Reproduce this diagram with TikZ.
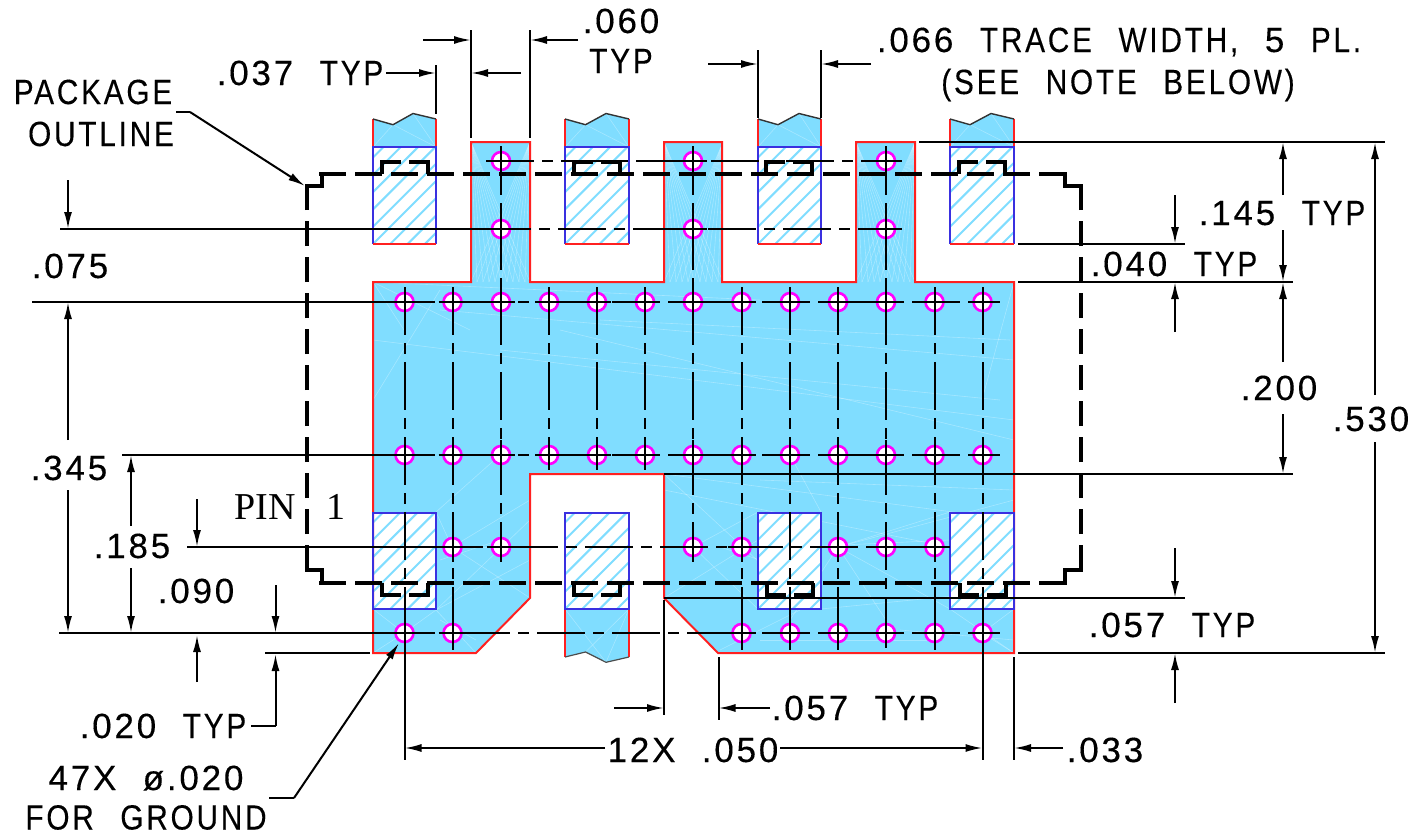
\documentclass[tikz,border=0pt]{standalone}
\usepackage{fontspec}
\usetikzlibrary{arrows.meta}
\newfontfamily\cadfont[FakeStretch=.85,LetterSpace=8,WordSpace=2.4,FakeBold=.25]{Liberation Sans}
\newfontfamily\numfont[FakeStretch=1,LetterSpace=8,WordSpace=2.1,FakeBold=.25]{Liberation Sans}
\newfontfamily\pinfont{Liberation Serif}
\newcommand{\nm}[1]{{\numfont #1}}
\definecolor{padcyan}{HTML}{80DDFF}
\definecolor{padred}{HTML}{FF2020}
\definecolor{leadblue}{HTML}{3A30E0}
\definecolor{viamag}{HTML}{FF00FF}
\tikzset{
  lbl/.style={font=\cadfont\fontsize{35}{35}\selectfont,inner sep=0pt,text=black,anchor=base},
  pinlbl/.style={font=\pinfont\fontsize{38}{38}\selectfont,inner sep=0pt,text=black,anchor=base},
  thin line/.style={draw=black,line width=2pt},
  dimarrow/.style={thin line,-{Latex[length=17pt,width=8pt]}},
  centerline/.style={thin line,dash pattern=on 48pt off 8pt on 11pt off 8pt},
  outline/.style={draw=black,line width=4.8pt,line join=miter},
  outdash/.style={outline,dash pattern=on 27pt off 9pt},
  outvdash/.style={outline,dash pattern=on 25pt off 11pt},
  padfill/.style={fill=padcyan,draw=none},
  padedge/.style={draw=padred,line width=2pt},
  leadedge/.style={draw=leadblue,line width=2pt},
  hatchline/.style={draw=padcyan,line width=2pt},
  meshline/.style={draw=white,line width=.6pt,opacity=.3},
  viacircle/.style={draw=viamag,fill=white,line width=2.6pt},
}
\newcommand{\hatchrect}[4]{%
  \fill[white] (#1,#2) rectangle (#3,#4);
  \begin{scope}
    \clip (#1,#2) rectangle (#3,#4);
    \foreach \k in {-8,...,12} {
      \draw[hatchline] ({#1+\k*17.3},#4) -- ++(110,-110);
    }
  \end{scope}
}
\begin{document}
\begin{tikzpicture}[x=1pt,y=-1pt]
\useasboundingbox (0,0) rectangle (1427,835);
% ---------- copper area
\path[padfill] (373,282) -- (471,282) -- (471,142) -- (530,142) -- (530,282) -- (664,282) -- (664,142) -- (722,142) -- (722,282) -- (856,282) -- (856,142) -- (915,142) -- (915,282) -- (1014,282) -- (1014,653) -- (718,653) -- (664,598) -- (664,474) -- (530,474) -- (530,598) -- (476,653) -- (373,653) -- cycle;
% mesh: fans in the three tabs
\foreach \t in {471,664,856} {
  \foreach \f in {0,6,12,18,24,30,36,42,48,54,59} {
    \draw[meshline] (\t,142) -- (\t+\f,282);
    \draw[meshline] (\t+59,142) -- (\t+\f,282);
  }
}
% mesh: body
\foreach \a/\b/\c/\d in {373/282/404/330,373/282/470/330,373/282/760/300,1014/282/982/400,373/340/1014/420,440/310/1014/360,560/330/1014/440,500/350/1000/400,600/320/1010/340,373/400/440/290,664/474/1014/520,664/474/800/600,664/490/1014/560,760/480/1014/490,1014/500/838/547,664/598/758/540,530/598/452/547,530/500/452/547,530/520/436/610,476/653/436/610,436/610/404/633,373/653/404/633,436/610/530/560,373/609/404/633,821/609/1014/590,821/512/790/455,950/512/838/547,950/609/838/547,838/547/886/620,838/547/790/620,436/512/500/455,436/512/452/547,758/512/693/547,693/547/758/609,720/650/800/610,950/609/1014/653,1014/609/982/633,1014/653/982/633,900/630/1014/640,760/640/940/640,440/620/476/640,440/547/500/547,440/560/500/540,800/547/950/540,720/547/760/560} {
  \draw[meshline] (\a,\b) -- (\c,\d);
}
% ---------- leads top
\foreach \xa/\xb/\xc/\xd in {373/393/413/436,565/585.5/606/629,758/778/799/821,950/970/991/1014} {
  \path[padfill] (\xa,147) -- (\xa,119) -- (\xb,124.7) -- (\xc,113.5) -- (\xd,119) -- (\xd,147) -- cycle;
  \draw[meshline] (\xb,124.7) -- (\xa,147) (\xb,124.7) -- (\xd,147) (\xc,113.5) -- (\xd,147);
  \draw[padedge] (\xa,147) -- (\xa,119) (\xd,119) -- (\xd,147);
  \draw[draw=black!80,line width=1.4pt] (\xa,119) -- (\xb,124.7) -- (\xc,113.5) -- (\xd,119);
  \hatchrect{\xa}{147}{\xd}{244}
}
% ---------- bottom pads
\hatchrect{373}{513}{436}{609}
\hatchrect{565}{513}{629}{609}
\hatchrect{758}{513}{821}{609}
\hatchrect{950}{513}{1014}{609}
% bottom lead 2
\path[padfill] (565,609) -- (565,657) -- (585.5,652) -- (606,662.3) -- (629,657) -- (629,609) -- cycle;
\draw[meshline] (565,609) -- (606,662.3) (629,609) -- (585.5,652) (629,609) -- (606,662.3);
\draw[padedge] (565,609) -- (565,657) (629,657) -- (629,609);
\draw[draw=black!70,line width=1.2pt] (565,657) -- (585.5,652) -- (606,662.3) -- (629,657);
% ---------- copper edge
\draw[padedge] (373,282) -- (471,282) -- (471,142) -- (530,142) -- (530,282) -- (664,282) -- (664,142) -- (722,142) -- (722,282) -- (856,282) -- (856,142) -- (915,142) -- (915,282) -- (1014,282) -- (1014,653) -- (718,653) -- (664,598) -- (664,474) -- (530,474) -- (530,598) -- (476,653) -- (373,653) -- cycle;
% lead frames
\foreach \xa/\xd in {373/436,565/629,758/821,950/1014} {
  \draw[leadedge] (\xa,244) -- (\xa,147) -- (\xd,147) -- (\xd,244);
  \draw[padedge,line width=1.6pt] (\xa,244) -- (\xd,244);
  \draw[leadedge] (\xa,513) rectangle (\xd,609);
}
% ---------- centre lines, rows
\draw[centerline] (486,161) -- (902,161);
\draw[thin line] (60,229) -- (483,229);
\draw[centerline] (483,229) -- (902,229);
\draw[thin line] (32,302) -- (387,302);
\draw[centerline] (387,302) -- (1000,302);
\draw[thin line] (122,455) -- (387,455);
\draw[centerline] (387,455) -- (1000,455);
\draw[thin line] (187,547) -- (435,547);
\draw[centerline] (435,547) -- (950,547);
\draw[thin line] (59,633) -- (387,633);
\draw[centerline] (387,633) -- (1000,633);
% ---------- centre lines, columns
\foreach \x/\ya/\yb in {404.5/287/650,452.5/287/650,501/147/562,549/287/470,597/287/470,645/287/470,693/147/562,741.5/287/650,790/287/650,838/287/650,886/147/650,934.5/287/650,982.5/287/650} {
  \draw[centerline] (\x,\ya) -- (\x,\yb);
}
% ---------- vias
\foreach \x/\y in {501/161,693/161,886/161,501/229,693/229,886/229,
  404.5/302,452.5/302,501/302,549/302,597/302,645/302,693/302,741.5/302,790/302,838/302,886/302,934.5/302,982.5/302,
  404.5/455,452.5/455,501/455,549/455,597/455,645/455,693/455,741.5/455,790/455,838/455,886/455,934.5/455,982.5/455,
  452.5/547,501/547,693/547,741.5/547,838/547,886/547,934.5/547,
  404.5/633,452.5/633,741.5/633,790/633,838/633,886/633,934.5/633,982.5/633} {
  \draw[viacircle] (\x,\y) circle (9);
  \draw[thin line] (\x-14,\y) -- (\x+14,\y) (\x,\y-15) -- (\x,\y+15);
}
% ---------- package outline
\draw[outdash] (319,174) -- (1065,174);
\draw[outdash] (319,583) -- (1065,583);
\draw[outvdash] (307,570) -- (307,186);
\draw[outvdash] (1081,570) -- (1081,186);
\draw[outline] (307,205) -- (307,186) -- (322,186) -- (322,174) -- (346,174);
\draw[outline] (1042,174) -- (1065,174) -- (1065,186) -- (1081,186) -- (1081,210);
\draw[outline] (307,545) -- (307,570) -- (322,570) -- (322,583) -- (346,583);
\draw[outline] (1042,583) -- (1065,583) -- (1065,570) -- (1081,570) -- (1081,545);
\foreach \xa/\xb in {382/428,574/620,766/812,959/1005} {
  \draw[outline] (\xa,174) -- (\xa,162) -- (\xa+19,162);
  \draw[outline] (\xb-19,162) -- (\xb,162) -- (\xb,174);
}
\foreach \xa/\xb in {382/428,574/620,767/813,960/1006} {
  \draw[outline] (\xa,583) -- (\xa,595) -- (\xa+19,595);
  \draw[outline] (\xb-19,595) -- (\xb,595) -- (\xb,583);
}
% ---------- extension lines
\draw[thin line] (436,65) -- (436,114);
\draw[thin line] (471,30) -- (471,138);
\draw[thin line] (530,30) -- (530,138);
\draw[thin line] (758,50) -- (758,118);
\draw[thin line] (821,50) -- (821,118);
\draw[thin line] (919,142) -- (1385,142);
\draw[thin line] (1018,244) -- (1185,244);
\draw[thin line] (1018,282) -- (1293,282);
\draw[thin line] (664,474) -- (1293,474);
\draw[thin line] (664,598) -- (1185,598);
\draw[thin line] (1018,653) -- (1385,653);
\draw[thin line] (265,653) -- (370,653);
\draw[thin line] (404.5,650) -- (404.5,760);
\draw[thin line] (982.5,650) -- (982.5,760);
\draw[thin line] (1014,657) -- (1014,760);
\draw[thin line] (664,600) -- (664,715);
\draw[thin line] (718.5,657) -- (718.5,720);
% ---------- texts
\node[lbl] (t037) at (300,85) {\nm{.037} TYP};
\node[lbl] (t060a) at (621,33) {\nm{.060}};
\node[lbl] (t060b) at (621,73) {TYP};
\node[lbl] (t066) at (1119,52) {\nm{.066} TRACE WIDTH, \nm{5} PL.};
\node[lbl] (tsee) at (1118,94) {(SEE NOTE BELOW)};
\node[lbl] (tpack) at (93,104) {PACKAGE};
\node[lbl] (tout) at (101,146) {OUTLINE};
\node[lbl] (t075) at (70,278) {\nm{.075}};
\node[lbl] (t345) at (69,480) {\nm{.345}};
\node[lbl] (t185) at (132,558) {\nm{.185}};
\node[pinlbl] (tpin) at (290,519) {PIN\hspace{31pt}1};
\node[lbl] (t090) at (196,603) {\nm{.090}};
\node[lbl] (t020) at (163,738) {\nm{.020} TYP};
\node[lbl] (t47x) at (146,790) {\nm{47X ø.020}};
\node[lbl] (tgnd) at (146,829.5) {FOR GROUND};
\node[lbl] (t12x) at (693,762) {\nm{12X .050}};
\node[lbl] (t057b) at (855,720) {\nm{.057} TYP};
\node[lbl] (t033) at (1105,762) {\nm{.033}};
\node[lbl] (t057r) at (1172,637) {\nm{.057} TYP};
\node[lbl] (t145) at (1282,225) {\nm{.145} TYP};
\node[lbl] (t040) at (1174,276) {\nm{.040} TYP};
\node[lbl] (t200) at (1279,400) {\nm{.200}};
\node[lbl] (t530) at (1371,431) {\nm{.530}};
% ---------- dimension arrows
\draw[dimarrow] (386,73) -- (436,73);
\draw[dimarrow] (423,40) -- (471,40);
\draw[dimarrow] (521,73) -- (471,73);
\draw[dimarrow] (578,40) -- (530,40);
\draw[dimarrow] (708,64) -- (758,64);
\draw[dimarrow] (871,64) -- (821,64);
\draw[thin line] (176,112) -- (190,112);
\draw[dimarrow] (190,112) -- (305,186);
\draw[dimarrow] (1283,195) -- (1283,142);
\draw[dimarrow] (1175,195) -- (1175,244);
\draw[dimarrow] (1175,332) -- (1175,282);
\draw[dimarrow] (1283,230) -- (1283,282);
\draw[dimarrow] (1283,362) -- (1283,282);
\draw[dimarrow] (1283,414) -- (1283,474);
\draw[dimarrow] (1375,395) -- (1375,142);
\draw[dimarrow] (1375,442) -- (1375,653);
\draw[dimarrow] (1175,548) -- (1175,598);
\draw[dimarrow] (1175,703) -- (1175,653);
\draw[dimarrow] (68,180) -- (68,229);
\draw[dimarrow] (68,440) -- (68,302);
\draw[dimarrow] (68,490) -- (68,633);
\draw[dimarrow] (131,526) -- (131,455);
\draw[dimarrow] (131,568) -- (131,633);
\draw[dimarrow] (197,499) -- (197,547);
\draw[dimarrow] (275.5,585) -- (275.5,633);
\draw[dimarrow] (197,682) -- (197,635);
\draw[thin line] (251,726) -- (275.5,726);
\draw[dimarrow] (275.5,726) -- (275.5,654);
\draw[thin line] (269,798) -- (294,798);
\draw[dimarrow] (294,798) -- (399,643);
\draw[dimarrow] (605,748) -- (404.5,748);
\draw[dimarrow] (780,748) -- (982.5,748);
\draw[dimarrow] (614,708) -- (664,708);
\draw[dimarrow] (770,708) -- (718.5,708);
\draw[dimarrow] (1063,748) -- (1014,748);
\end{tikzpicture}
\end{document}
